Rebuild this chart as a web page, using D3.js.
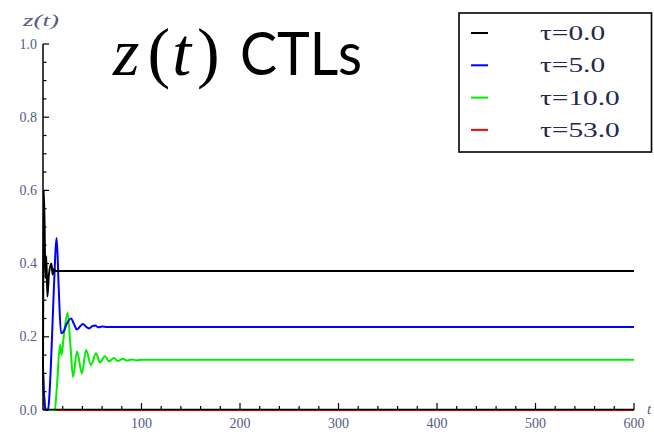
<!DOCTYPE html>
<html><head><meta charset="utf-8">
<script src="https://cdn.jsdelivr.net/npm/d3@7"></script>
<style>body{margin:0;background:#fff}svg{display:block}</style>
</head><body>
<script>
// ---- data ----
const legendLabels = ["τ=0.0","τ=5.0","τ=10.0","τ=53.0"];
const seriesColors = ["#000000","#0000ff","#00ee00","#ff0000"];
const xTickLabels = [100,200,300,400,500,600];
const yTickLabels = [0.0,0.2,0.4,0.6,0.8,1.0];

const tTau0 = [0,0.7,1.5,2.5,3.3,4.5,6,8.5,9.8,11,13,600];
const zTau0 = [0.1,0.6,0.52,0.36,0.42,0.31,0.37,0.40,0.37,0.385,0.38,0.38];

const tTau5 = [0,1.5,3,5,8,11,13.9,16,18.3,21,24,28.4,31.5,34.5,37.5,40.6,43.5,46.7,50,53,56,60,65,70,600];
const zTau5 = [0.1,0.02,0,0,0.12,0.33,0.47,0.33,0.21,0.215,0.235,0.25,0.235,0.22,0.228,0.235,0.228,0.223,0.229,0.231,0.226,0.228,0.227,0.227,0.227];

const tTau10 = [0,1.5,3,12,14,17.3,18.8,21,25,28,30.5,34.5,39.5,43.7,48.7,53.8,57.9,62.9,67,72,76,81,85,90,95,100,600];
const zTau10 = [0.1,0.02,0,0,0.06,0.178,0.15,0.2,0.265,0.17,0.09,0.16,0.10,0.164,0.123,0.155,0.13,0.147,0.133,0.142,0.134,0.14,0.135,0.138,0.136,0.137,0.137];

const tTau53 = [0,1,2,3,600];
const zTau53 = [0.12,0.05,0.01,0,0];

// ---- layout ----
const W = 654, H = 432;
const svg = d3.select("body").append("svg").attr("width", W).attr("height", H);
const x = d3.scaleLinear().domain([0,600]).range([43,634]);
const y = d3.scaleLinear().domain([0,1]).range([410,44]);

const series = [[tTau0,zTau0],[tTau5,zTau5],[tTau10,zTau10],[tTau53,zTau53]];
const line = d3.line().x(d=>x(d[0])).y(d=>y(d[1])).curve(d3.curveMonotoneX);

// draw red first, then green, blue, black
[3,2,1,0].forEach(i=>{
  const [ts,zs] = series[i];
  svg.append("path").datum(ts.map((t,k)=>[t,zs[k]]))
    .attr("fill","none").attr("stroke",seriesColors[i])
    .attr("stroke-width",2).attr("stroke-linejoin","round")
    .attr("d",line);
});

// ---- axes ----
const labelColor = "#555b85";
const ax = svg.append("g");
ax.append("line").attr("x1",x(0)).attr("x2",x(600)).attr("y1",y(0)-0.5).attr("y2",y(0)-0.5)
  .attr("stroke","#000").attr("stroke-width",1.5);
ax.append("line").attr("x1",x(0)).attr("x2",x(0)).attr("y1",y(0)).attr("y2",y(1))
  .attr("stroke","#000").attr("stroke-width",1.5);

d3.range(20,601,20).forEach(v=>{
  const major = v%100===0;
  ax.append("line").attr("x1",x(v)).attr("x2",x(v))
    .attr("y1",y(0)).attr("y2",y(0)-(major?7:4))
    .attr("stroke","#000").attr("stroke-width",1.2);
});
d3.range(0,21).forEach(k=>{
  const v = k*0.05;
  const major = k%4===0;
  ax.append("line").attr("x1",x(0)).attr("x2",x(0)+(major?6:3.5))
    .attr("y1",y(v)).attr("y2",y(v))
    .attr("stroke","#000").attr("stroke-width",1.2);
});
xTickLabels.forEach(v=>{
  svg.append("text").attr("x",x(v)).attr("y",428).attr("text-anchor","middle")
    .attr("font-family","Liberation Serif").attr("font-size",14).attr("fill",labelColor)
    .text(v);
});
yTickLabels.forEach(v=>{
  svg.append("text").attr("x",37).attr("y",y(v)+4.5).attr("text-anchor","end")
    .attr("font-family","Liberation Serif").attr("font-size",14).attr("fill",labelColor)
    .text(v.toFixed(1));
});
// axis labels
svg.append("text").attr("x",23).attr("y",26)
  .attr("font-family","Liberation Serif").attr("font-style","italic").attr("font-size",17)
  .attr("fill",labelColor).attr("textLength",36).attr("lengthAdjust","spacingAndGlyphs")
  .text("z(t)");
svg.append("text").attr("x",647).attr("y",414)
  .attr("font-family","Liberation Serif").attr("font-style","italic").attr("font-size",15)
  .attr("fill",labelColor).text("t");

// ---- title ----
const title = svg.append("text").attr("y",75).attr("font-size",68);
title.append("tspan").attr("x",113).attr("font-family","Liberation Serif").attr("font-style","italic").text("z");
title.append("tspan").attr("font-family","Liberation Serif").attr("dx",8).text("(");
title.append("tspan").attr("font-family","Liberation Serif").attr("font-style","italic").attr("dx",2).text("t");
title.append("tspan").attr("font-family","Liberation Serif").attr("dx",6).text(")");
svg.append("text").attr("x",240).attr("y",75).attr("font-size",60)
  .attr("font-family","Lato").attr("textLength",122).attr("lengthAdjust","spacingAndGlyphs")
  .attr("fill","#000").text("CTLs");

// ---- legend ----
svg.append("rect").attr("x",459).attr("y",13).attr("width",192.5).attr("height",139)
  .attr("fill","#fff").attr("stroke","#000").attr("stroke-width",1.6);
legendLabels.forEach((lab,i)=>{
  const ly = 33 + i*32.3;
  svg.append("line").attr("x1",471).attr("x2",488).attr("y1",ly).attr("y2",ly)
    .attr("stroke",seriesColors[i]).attr("stroke-width",2);
  svg.append("text").attr("transform",`translate(540,${ly+7}) scale(1.4,1)`)
    .attr("font-family","Liberation Serif").attr("font-size",21).attr("fill","#262850")
    .text(lab);
});
</script>
</body></html>
